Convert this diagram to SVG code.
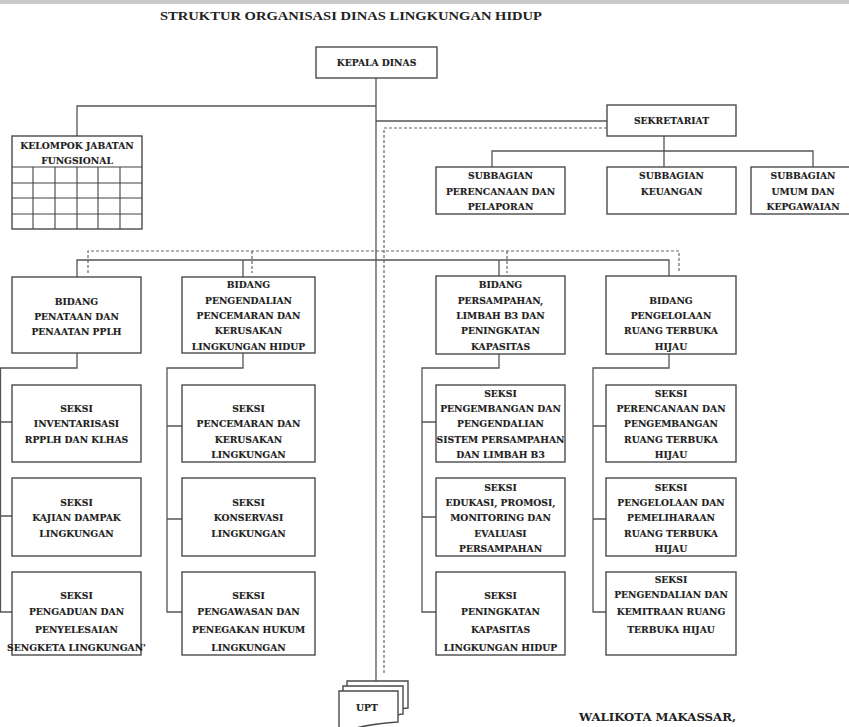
<svg xmlns="http://www.w3.org/2000/svg" width="849" height="727" viewBox="0 0 849 727">
<style>
.bx{fill:#fff;stroke:#4a4a4a;stroke-width:1.4}
.ln{fill:none;stroke:#555;stroke-width:1.3}
.ds{fill:none;stroke:#666;stroke-width:1.2;stroke-dasharray:3 2}
.t{font-family:"DejaVu Serif","Liberation Serif",serif;font-weight:bold;font-size:9.2px;fill:#1e1e1e;stroke:#1e1e1e;stroke-width:0.15;text-anchor:middle}
.g{fill:none;stroke:#444;stroke-width:1.1}
</style>
<rect width="849" height="727" fill="#fff"/>
<rect x="0" y="0" width="849" height="4" fill="#c9c9c9"/>
<text x="351" y="20" font-family="Liberation Serif,serif" font-weight="bold" font-size="12.5" fill="#222" text-anchor="middle" textLength="382" lengthAdjust="spacingAndGlyphs">STRUKTUR ORGANISASI DINAS LINGKUNGAN HIDUP</text>

<g id="connectors">
<path class="ln" d="M376 78V681"/>
<path class="ln" d="M77 136V106H376"/>
<path class="ln" d="M376 121H607"/>
<path class="ds" d="M607 128H384V675"/>
<path class="ln" d="M664 136V151M492 167V151H813V167M664 151V167"/>
<path class="ds" d="M88 273V251H679V273M252 251V273M507 251V273"/>
<path class="ln" d="M77 277V260H669V276M243 260V277M499 260V276"/>
<path class="ln" d="M77 353V368H0.5V612H12M0 422H12M0 516H12"/>
<path class="ln" d="M243 353V368H167V612H182M167 426H182M167 519H182"/>
<path class="ln" d="M499 354V368H422V612H436M422 422H436M422 517H436"/>
<path class="ln" d="M669 354V368H593V612H606M593 426H606M593 519H606"/>
</g>

<g id="kepala-dinas">
<rect class="bx" x="316" y="47" width="121" height="31"/>
<text class="t" x="376.5" y="66">KEPALA DINAS</text>
</g>

<g id="kelompok-jabatan">
<rect class="bx" x="12" y="136" width="130" height="93"/>
<path class="g" d="M12 167H142M12 183H142M12 198H142M12 214H142M33 167V229M55 167V229M77 167V229M98 167V229M120 167V229"/>
<text class="t" x="77" y="149">KELOMPOK JABATAN</text>
<text class="t" x="77" y="164">FUNGSIONAL</text>
</g>

<g id="sekretariat">
<rect class="bx" x="607" y="105" width="129" height="31"/>
<text class="t" x="671.5" y="124">SEKRETARIAT</text>
</g>

<g id="subbagian-perencanaan">
<rect class="bx" x="436" y="167" width="129" height="47"/>
<text class="t" x="500.5"><tspan x="500.5" y="178.5">SUBBAGIAN</tspan><tspan x="500.5" y="194.5">PERENCANAAN DAN</tspan><tspan x="500.5" y="209.5">PELAPORAN</tspan></text>
</g>
<g id="subbagian-keuangan">
<rect class="bx" x="607" y="167" width="129" height="47"/>
<text class="t" x="671.5"><tspan x="671.5" y="178.5">SUBBAGIAN</tspan><tspan x="671.5" y="194.5">KEUANGAN</tspan></text>
</g>
<g id="subbagian-umum">
<rect class="bx" x="751" y="167" width="110" height="47"/>
<text class="t" x="803"><tspan x="803" y="178.5">SUBBAGIAN</tspan><tspan x="803" y="194.5">UMUM DAN</tspan><tspan x="803" y="209.5">KEPGAWAIAN</tspan></text>
</g>

<g id="bidang-penataan">
<rect class="bx" x="12" y="277" width="129" height="76"/>
<text class="t"><tspan x="76.5" y="304.5">BIDANG</tspan><tspan x="76.5" y="319.5">PENATAAN DAN</tspan><tspan x="76.5" y="334.5">PENAATAN PPLH</tspan></text>
</g>
<g id="bidang-pengendalian">
<rect class="bx" x="182" y="277" width="133" height="76"/>
<text class="t"><tspan x="248.5" y="287.5">BIDANG</tspan><tspan x="248.5" y="303.5">PENGENDALIAN</tspan><tspan x="248.5" y="318.5">PENCEMARAN DAN</tspan><tspan x="248.5" y="334">KERUSAKAN</tspan><tspan x="248.5" y="349.5">LINGKUNGAN HIDUP</tspan></text>
</g>
<g id="bidang-persampahan">
<rect class="bx" x="436" y="276" width="129" height="78"/>
<text class="t"><tspan x="500.5" y="287.5">BIDANG</tspan><tspan x="500.5" y="303.5">PERSAMPAHAN,</tspan><tspan x="500.5" y="318.5">LIMBAH B3 DAN</tspan><tspan x="500.5" y="334">PENINGKATAN</tspan><tspan x="500.5" y="349.5">KAPASITAS</tspan></text>
</g>
<g id="bidang-rth">
<rect class="bx" x="606" y="276" width="130" height="78"/>
<text class="t"><tspan x="671" y="303.5">BIDANG</tspan><tspan x="671" y="318.5">PENGELOLAAN</tspan><tspan x="671" y="334">RUANG TERBUKA</tspan><tspan x="671" y="349.5">HIJAU</tspan></text>
</g>

<g id="seksi-inventarisasi">
<rect class="bx" x="12" y="385" width="129" height="77"/>
<text class="t"><tspan x="76.5" y="411.5">SEKSI</tspan><tspan x="76.5" y="426.5">INVENTARISASI</tspan><tspan x="76.5" y="442.5">RPPLH DAN KLHAS</tspan></text>
</g>
<g id="seksi-kajian">
<rect class="bx" x="12" y="478" width="129" height="78"/>
<text class="t"><tspan x="76.5" y="505.5">SEKSI</tspan><tspan x="76.5" y="520.5">KAJIAN DAMPAK</tspan><tspan x="76.5" y="536.5">LINGKUNGAN</tspan></text>
</g>
<g id="seksi-pengaduan">
<rect class="bx" x="12" y="572" width="129" height="83"/>
<text class="t"><tspan x="76.5" y="598.5">SEKSI</tspan><tspan x="76.5" y="614.5">PENGADUAN DAN</tspan><tspan x="76.5" y="632.5">PENYELESAIAN</tspan><tspan x="76.5" y="650.5">SENGKETA LINGKUNGAN'</tspan></text>
</g>

<g id="seksi-pencemaran">
<rect class="bx" x="182" y="385" width="133" height="77"/>
<text class="t"><tspan x="248.5" y="411.5">SEKSI</tspan><tspan x="248.5" y="426.5">PENCEMARAN DAN</tspan><tspan x="248.5" y="442.5">KERUSAKAN</tspan><tspan x="248.5" y="458">LINGKUNGAN</tspan></text>
</g>
<g id="seksi-konservasi">
<rect class="bx" x="182" y="478" width="133" height="78"/>
<text class="t"><tspan x="248.5" y="505.5">SEKSI</tspan><tspan x="248.5" y="520.5">KONSERVASI</tspan><tspan x="248.5" y="536.5">LINGKUNGAN</tspan></text>
</g>
<g id="seksi-pengawasan">
<rect class="bx" x="182" y="572" width="133" height="83"/>
<text class="t"><tspan x="248.5" y="598.5">SEKSI</tspan><tspan x="248.5" y="614.5">PENGAWASAN DAN</tspan><tspan x="248.5" y="632.5">PENEGAKAN HUKUM</tspan><tspan x="248.5" y="650.5">LINGKUNGAN</tspan></text>
</g>

<g id="seksi-pengembangan-sampah">
<rect class="bx" x="436" y="385" width="129" height="77"/>
<text class="t"><tspan x="500.5" y="396.5">SEKSI</tspan><tspan x="500.5" y="411.5">PENGEMBANGAN DAN</tspan><tspan x="500.5" y="426.5">PENGENDALIAN</tspan><tspan x="500.5" y="443">SISTEM PERSAMPAHAN</tspan><tspan x="500.5" y="458">DAN LIMBAH B3</tspan></text>
</g>
<g id="seksi-edukasi">
<rect class="bx" x="436" y="478" width="129" height="78"/>
<text class="t"><tspan x="500.5" y="490.5">SEKSI</tspan><tspan x="500.5" y="505.5">EDUKASI, PROMOSI,</tspan><tspan x="500.5" y="520.5">MONITORING DAN</tspan><tspan x="500.5" y="536.5">EVALUASI</tspan><tspan x="500.5" y="551.5">PERSAMPAHAN</tspan></text>
</g>
<g id="seksi-peningkatan">
<rect class="bx" x="436" y="572" width="129" height="83"/>
<text class="t"><tspan x="500.5" y="598.5">SEKSI</tspan><tspan x="500.5" y="614.5">PENINGKATAN</tspan><tspan x="500.5" y="632.5">KAPASITAS</tspan><tspan x="500.5" y="650.5">LINGKUNGAN HIDUP</tspan></text>
</g>

<g id="seksi-perencanaan-rth">
<rect class="bx" x="606" y="385" width="130" height="77"/>
<text class="t"><tspan x="671" y="396.5">SEKSI</tspan><tspan x="671" y="411.5">PERENCANAAN DAN</tspan><tspan x="671" y="426.5">PENGEMBANGAN</tspan><tspan x="671" y="443">RUANG TERBUKA</tspan><tspan x="671" y="458">HIJAU</tspan></text>
</g>
<g id="seksi-pengelolaan-rth">
<rect class="bx" x="606" y="478" width="130" height="78"/>
<text class="t"><tspan x="671" y="490.5">SEKSI</tspan><tspan x="671" y="505.5">PENGELOLAAN DAN</tspan><tspan x="671" y="520.5">PEMELIHARAAN</tspan><tspan x="671" y="536.5">RUANG TERBUKA</tspan><tspan x="671" y="551.5">HIJAU</tspan></text>
</g>
<g id="seksi-pengendalian-rth">
<rect class="bx" x="606" y="572" width="130" height="83"/>
<text class="t"><tspan x="671" y="582.5">SEKSI</tspan><tspan x="671" y="597.5">PENGENDALIAN DAN</tspan><tspan x="671" y="614.5">KEMITRAAN RUANG</tspan><tspan x="671" y="632.5">TERBUKA HIJAU</tspan></text>
</g>

<g id="upt">
<path class="bx" d="M347 711V681H408V708Q402 708 398 710"/>
<path class="bx" d="M343 717V686H403V714Q398 714 398 716"/>
<path class="bx" d="M339 727V691H398V722Q370 724 352 729"/>
<text class="t" x="367" y="711">UPT</text>
</g>

<text x="657.5" y="721" font-family="DejaVu Serif,Liberation Serif,serif" font-weight="bold" font-size="11" fill="#222" text-anchor="middle" textLength="157" lengthAdjust="spacingAndGlyphs">WALIKOTA MAKASSAR,</text>
</svg>
